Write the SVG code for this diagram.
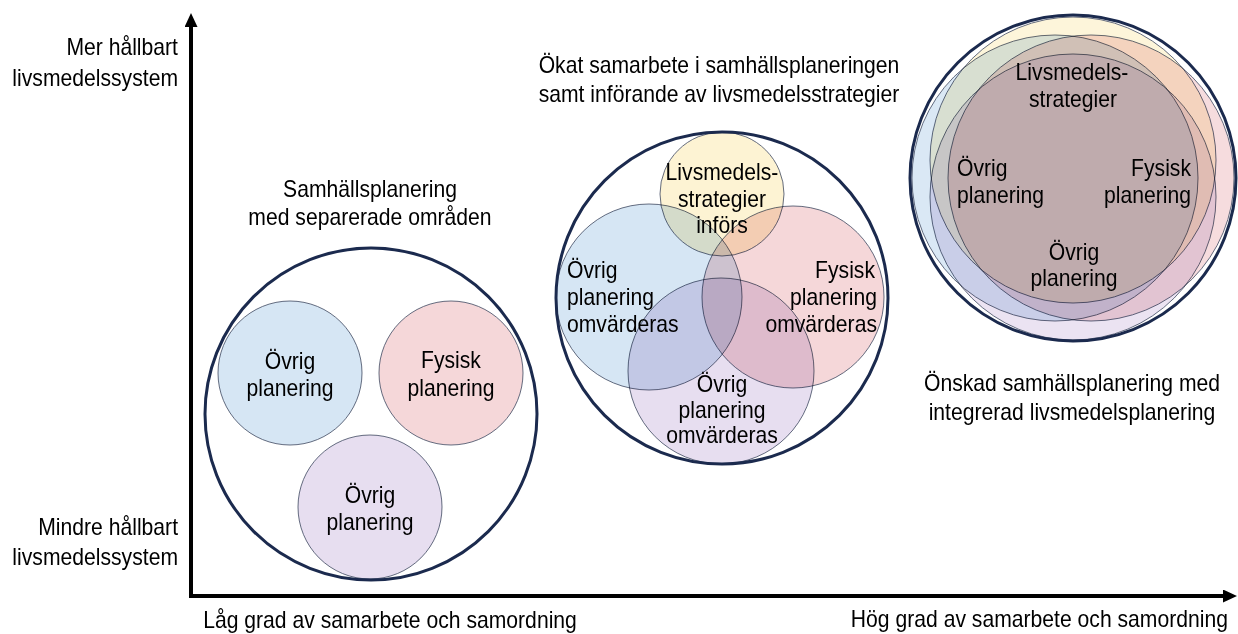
<svg xmlns="http://www.w3.org/2000/svg" width="1238" height="634" viewBox="0 0 1238 634">
<style>
.t{font-family:"Liberation Sans",Arial,Helvetica,sans-serif;font-size:23px;fill:#000}
.m{text-anchor:middle}
.e{text-anchor:end}
.s{text-anchor:start}
.c{mix-blend-mode:multiply;stroke:#3e4860;stroke-width:0.8}
.blue{fill:#d6e6f4}
.pink{fill:#f5d7d9}
.purple{fill:#e7def0}
.yellow{fill:#fdf3d3}
.blue3{fill:#dae8f5}
.pink3{fill:#f6dcde}
.purple3{fill:#ebe3f2}
.yellow3{fill:#fdf5da}
.outer{fill:none;stroke:#1b2a4e;stroke-width:3}
.axis{stroke:#000;stroke-width:4;fill:none}
</style>
<defs>
<marker id="ah" markerUnits="userSpaceOnUse" markerWidth="14" markerHeight="13" refX="0" refY="6.5" orient="auto">
<path d="M0,0 L14,6.5 L0,13 z" fill="#000"/>
</marker>
</defs>
<rect width="1238" height="634" fill="#fff"/>

<g id="connectors">
<line class="axis" x1="191" y1="598" x2="191" y2="27" marker-end="url(#ah)"/>
<line class="axis" x1="189" y1="596" x2="1223" y2="596" marker-end="url(#ah)"/>
</g>

<g id="axis-labels">
<text class="t e" transform="translate(178 55) scale(0.92 1)">Mer hållbart</text>
<text class="t e" transform="translate(178 86) scale(0.92 1)">livsmedelssystem</text>
<text class="t e" transform="translate(178 535) scale(0.92 1)">Mindre hållbart</text>
<text class="t e" transform="translate(178 565) scale(0.92 1)">livsmedelssystem</text>
<text class="t m" transform="translate(390 628) scale(0.92 1)">Låg grad av samarbete och samordning</text>
<text class="t e" transform="translate(1228 627) scale(0.92 1)">Hög grad av samarbete och samordning</text>
</g>

<g id="stage1">
<text class="t m" transform="translate(370 197) scale(0.92 1)">Samhällsplanering</text>
<text class="t m" transform="translate(370 225) scale(0.92 1)">med separerade områden</text>
<g id="s1-ovrig1">
<circle class="c blue" cx="290" cy="373" r="72"/>
<text class="t m" transform="translate(290 369) scale(0.92 1)">Övrig</text>
<text class="t m" transform="translate(290 396) scale(0.92 1)">planering</text>
</g>
<g id="s1-fysisk">
<circle class="c pink" cx="451" cy="373" r="72"/>
<text class="t m" transform="translate(451 368) scale(0.92 1)">Fysisk</text>
<text class="t m" transform="translate(451 396) scale(0.92 1)">planering</text>
</g>
<g id="s1-ovrig2">
<circle class="c purple" cx="370" cy="507" r="72"/>
<text class="t m" transform="translate(370 503) scale(0.92 1)">Övrig</text>
<text class="t m" transform="translate(370 530) scale(0.92 1)">planering</text>
</g>
<circle class="outer" cx="371" cy="414" r="166"/>
</g>

<g id="stage2">
<text class="t m" transform="translate(719 73) scale(0.92 1)">Ökat samarbete i samhällsplaneringen</text>
<text class="t m" transform="translate(719 102) scale(0.92 1)">samt införande av livsmedelsstrategier</text>
<g id="s2-circles">
<circle class="c blue" cx="649" cy="297" r="93"/>
<circle class="c pink" cx="793" cy="297" r="91"/>
<circle class="c purple" cx="721" cy="371" r="93"/>
<circle class="c yellow" cx="722" cy="194" r="62"/>
</g>
<g id="s2-livsmedel">
<text class="t m" transform="translate(722 180) scale(0.92 1)">Livsmedels-</text>
<text class="t m" transform="translate(722 207) scale(0.92 1)">strategier</text>
<text class="t m" transform="translate(722 233) scale(0.92 1)">införs</text>
</g>
<g id="s2-ovrig1">
<text class="t s" transform="translate(567 278) scale(0.92 1)">Övrig</text>
<text class="t s" transform="translate(567 305) scale(0.92 1)">planering</text>
<text class="t s" transform="translate(567 332) scale(0.92 1)">omvärderas</text>
</g>
<g id="s2-fysisk">
<text class="t e" transform="translate(875 278) scale(0.92 1)">Fysisk</text>
<text class="t e" transform="translate(877 305) scale(0.92 1)">planering</text>
<text class="t e" transform="translate(877 332) scale(0.92 1)">omvärderas</text>
</g>
<g id="s2-ovrig2">
<text class="t m" transform="translate(722 392) scale(0.92 1)">Övrig</text>
<text class="t m" transform="translate(722 418) scale(0.92 1)">planering</text>
<text class="t m" transform="translate(722 443) scale(0.92 1)">omvärderas</text>
</g>
<circle class="outer" cx="722" cy="298" r="166"/>
</g>

<g id="stage3">
<g id="s3-circles">
<circle class="c blue3" cx="1055" cy="178" r="143"/>
<circle class="c pink3" cx="1091" cy="178" r="143"/>
<circle class="c purple3" cx="1073" cy="197" r="143"/>
<circle class="c yellow3" cx="1073" cy="160" r="143"/>
</g>
<g id="s3-livsmedel">
<text class="t m" transform="translate(1072 80) scale(0.92 1)">Livsmedels-</text>
<text class="t m" transform="translate(1073 107) scale(0.92 1)">strategier</text>
</g>
<g id="s3-ovrig1">
<text class="t s" transform="translate(957 176) scale(0.92 1)">Övrig</text>
<text class="t s" transform="translate(957 203) scale(0.92 1)">planering</text>
</g>
<g id="s3-fysisk">
<text class="t e" transform="translate(1191 176) scale(0.92 1)">Fysisk</text>
<text class="t e" transform="translate(1191 203) scale(0.92 1)">planering</text>
</g>
<g id="s3-ovrig2">
<text class="t m" transform="translate(1074 260) scale(0.92 1)">Övrig</text>
<text class="t m" transform="translate(1074 286) scale(0.92 1)">planering</text>
</g>
<circle class="outer" cx="1073" cy="178" r="163"/>
<text class="t m" transform="translate(1072 391) scale(0.92 1)">Önskad samhällsplanering med</text>
<text class="t m" transform="translate(1072 420) scale(0.92 1)">integrerad livsmedelsplanering</text>
</g>
</svg>
